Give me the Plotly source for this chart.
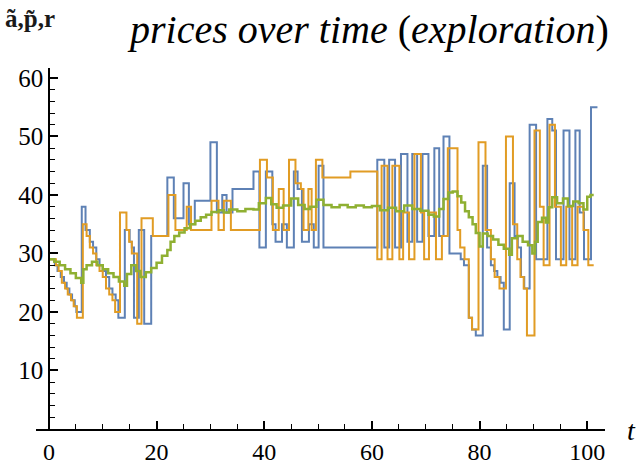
import plotly.graph_objects as go

# ---- data ----
t_a = [0, 1.1, 1.6, 2.2, 2.8, 3.3, 3.8, 4.3, 4.8, 5.1, 6.1, 6.8, 7.6, 8.2, 8.8, 9.4, 10.0, 10.6, 11.2, 11.8,
       12.4, 12.9, 14.1, 15.0, 15.4, 15.8, 16.7, 17.7, 19.0, 22.0, 23.2, 25.0, 26.0, 27.1, 30.0, 31.2, 32.2, 33.0, 34.1, 38.0,
       39.1, 40.3, 41.5, 42.1, 43.3, 44.2, 45.5, 46.2, 47.0, 48.3, 49.2, 50.1, 51.0, 61.0, 62.3, 63.2, 64.3, 65.4, 66.6, 67.5,
       68.4, 69.4, 70.5, 71.6, 72.5, 73.3, 74.4, 76.5, 77.1, 78.0, 78.6, 79.3, 80.6, 81.4, 82.1, 82.7, 83.3, 83.9, 84.5, 85.6,
       86.5, 87.1, 87.7, 88.3, 89.3, 90.5, 92.6, 93.5, 94.2, 95.6, 96.7, 97.8, 98.6, 99.4, 100.7, 101.9]
a_vals = [29, 28, 27, 26, 25, 24, 23, 22, 21, 20, 38, 34, 32, 31, 29, 28, 27, 26, 24, 23,
          22, 19, 34, 32, 31, 19, 34, 18, 33, 43, 36, 42, 35, 39, 49, 37, 40, 37, 41, 44,
          31, 44, 35, 32, 35, 31, 44, 41, 32, 35, 31, 45, 31, 46, 31, 46, 31, 47, 32, 47,
          32, 47, 33, 48, 33, 50, 30, 29, 28, 19, 17, 16, 45, 31, 28, 27, 26, 25, 17, 42,
          33, 31, 26, 24, 52, 29, 53, 51, 29, 51, 29, 51, 37, 29, 55, 55]

t_p = [0, 1.3, 1.8, 2.4, 3.0, 3.5, 4.1, 4.6, 5.2, 6.3, 7.0, 7.6, 8.2, 8.8, 9.4, 10.0, 10.6, 11.2, 11.8, 12.3,
       13.2, 14.4, 14.9, 15.4, 16.4, 17.2, 19.3, 22.2, 23.5, 25.6, 26.4, 30.2, 31.5, 32.5, 33.8, 39.2, 40.5, 41.6, 42.7, 43.6,
       44.6, 45.8, 46.8, 47.3, 48.2, 48.8, 49.6, 50.8, 56.0, 61.0, 61.8, 62.9, 63.8, 65.1, 65.8, 66.9, 67.9, 69.1, 69.7, 70.6,
       71.9, 73.0, 74.1, 75.9, 76.4, 77.2, 78.0, 78.6, 79.8, 81.1, 82.1, 82.8, 83.7, 84.9, 86.2, 87.0, 87.6, 88.2, 88.8, 90.2,
       91.2, 91.9, 93.0, 94.0, 95.1, 96.1, 97.2, 98.2, 99.3, 100.2, 101.2]
p_vals = [29, 28, 27, 25, 24, 23, 22, 21, 19, 35, 33, 31, 30, 28, 27, 26, 24, 23, 22, 20,
          37, 34, 32, 30, 18, 36, 33, 40, 34, 38, 34, 39, 34, 39, 34, 46, 43, 34, 41, 34,
          46, 42, 41, 34, 41, 34, 46, 43, 44, 29, 45, 29, 45, 29, 37, 29, 47, 37, 29, 37,
          29, 33, 48, 34, 31, 29, 19, 17, 49, 34, 29, 26, 24, 50, 35, 29, 26, 24, 16, 51,
          38, 28, 52, 38, 28, 38, 28, 38, 34, 28, 28]

t_r = [0, 1, 2, 3, 4, 5, 6, 6.4, 7, 8, 9, 10, 11, 12, 13, 14, 14.5, 15.3, 16.2, 17.0,
       18, 19, 20, 21, 22, 22.6, 23.3, 24.2, 25.2, 26.2, 27.2, 28.2, 29.2, 30.2, 31.5, 32.5, 33.5, 35, 36.5, 38,
       39, 40.3, 41.3, 42.3, 43.5, 45, 46.3, 47.5, 48.5, 49.7, 51, 52.5, 54, 55.5, 57, 58.5, 60, 61.5, 63, 64.5,
       66, 67.5, 69, 70.5, 71.5, 72.5, 73.3, 74.2, 75.0, 75.9, 76.6, 77.3, 78.0, 78.7, 79.3, 80.0, 80.6, 81.5, 82.5, 83.5,
       84.5, 85.5, 86.0, 87.0, 88.0, 89.0, 89.8, 90.3, 90.8, 91.6, 92.3, 92.8, 93.5, 94.4, 95.5, 96.4, 97.4, 98.4, 99.3, 100.0,
       100.6, 101.2]
r_vals = [29, 28.6, 28, 27.3, 26.6, 25.8, 25, 27.3, 28, 28.6, 28, 27.3, 26.6, 26, 25.2, 24.5, 26.5, 28, 27, 26,
          26.8, 27.5, 28.4, 29.6, 30.6, 32, 33, 33.6, 34.3, 35, 35.6, 36.2, 36.6, 37.1, 37.4, 37.0, 37.5, 37.2, 37.6, 37.5,
          38.6, 39.5, 38.4, 37.8, 38.2, 39.4, 38.3, 37.6, 38.0, 39.2, 38.3, 37.9, 38.3, 37.9, 38.2, 37.9, 38.1, 37.4, 37.8, 37.2,
          38.2, 37.6, 37.3, 36.6, 36.3, 37.6, 39.3, 40.4, 40.6, 39.8, 38.7, 37.2, 36.2, 35.0, 33.5, 31.2, 33.4, 33.0, 32.4, 31.5,
          30.8, 29.8, 32.6, 33.0, 32.0, 31.4, 30.0, 32.0, 35.4, 36.1, 35.3, 37.9, 39.6, 38.6, 39.4, 38.1, 38.9, 38.6, 37.5, 39.7,
          40.0, 40.0]

x_ticks = [0, 20, 40, 60, 80, 100]
y_ticks = [10, 20, 30, 40, 50, 60]

BLUE = "#5E81B5"
ORANGE = "#E19C24"
GREEN = "#8FB032"

fig = go.Figure()
fig.add_trace(go.Scatter(x=t_a, y=a_vals, mode="lines", line=dict(color=BLUE, width=2, shape="hv"), name="ã"))
fig.add_trace(go.Scatter(x=t_p, y=p_vals, mode="lines", line=dict(color=ORANGE, width=2, shape="hv"), name="p̃"))
fig.add_trace(go.Scatter(x=t_r, y=r_vals, mode="lines", line=dict(color=GREEN, width=2.5, shape="hv"), name="r"))

L, R, T, B = 36, 36, 68, 37
W, H = 641, 466
pw = W - L - R
ph = H - T - B
xr = [-2.4, 103.3]
yr = [0, 61.7]
x0_frac = (0 - xr[0]) / (xr[1] - xr[0])

serif = "Liberation Serif, Times New Roman, serif"

fig.update_layout(
    width=W, height=H,
    margin=dict(l=L, r=R, t=T, b=B, autoexpand=False),
    paper_bgcolor="white", plot_bgcolor="white",
    showlegend=False,
    xaxis=dict(range=xr, tickvals=x_ticks, ticktext=[str(v) for v in x_ticks],
               showgrid=False, zeroline=False, showline=True, linecolor="black", linewidth=1.5,
               ticks="inside", ticklen=8, tickwidth=1.5, tickcolor="black",
               minor=dict(ticks="inside", dtick=5, tick0=0, ticklen=5, tickwidth=1.2, tickcolor="black"),
               tickfont=dict(family=serif, size=24, color="black"),
               anchor="y", automargin=False),
    yaxis=dict(range=yr, tickvals=y_ticks, ticktext=[str(v) for v in y_ticks],
               showgrid=False, zeroline=False, showline=True, linecolor="black", linewidth=1.5,
               ticks="inside", ticklen=8, tickwidth=1.5, tickcolor="black",
               minor=dict(ticks="inside", dtick=2, tick0=0, ticklen=5, tickwidth=1.2, tickcolor="black"),
               tickfont=dict(family=serif, size=25, color="black"),
               anchor="free", position=x0_frac, automargin=False),
)

def px_to_paper_x(px):
    return (px - L) / pw

def py_to_paper_y(py):
    return (H - B - py) / ph

fig.add_annotation(text="<i>prices over time</i> (<i>exploration</i>)",
                   x=px_to_paper_x(368), y=py_to_paper_y(30), xref="paper", yref="paper",
                   xanchor="center", yanchor="middle", showarrow=False,
                   font=dict(family=serif, size=40, color="black"))
fig.add_annotation(text="<b>ã,p̃,r</b>",
                   x=px_to_paper_x(30), y=py_to_paper_y(19), xref="paper", yref="paper",
                   xanchor="center", yanchor="middle", showarrow=False,
                   font=dict(family=serif, size=25, color="#1a1a1a"))
fig.add_annotation(text="<i>t</i>",
                   x=px_to_paper_x(625), y=py_to_paper_y(430), xref="paper", yref="paper",
                   xanchor="left", yanchor="middle", showarrow=False,
                   font=dict(family=serif, size=28, color="black"))

fig.write_html("out.html", config={"displayModeBar": False},
               post_script="document.body.style.margin='0';document.body.style.padding='0';")
